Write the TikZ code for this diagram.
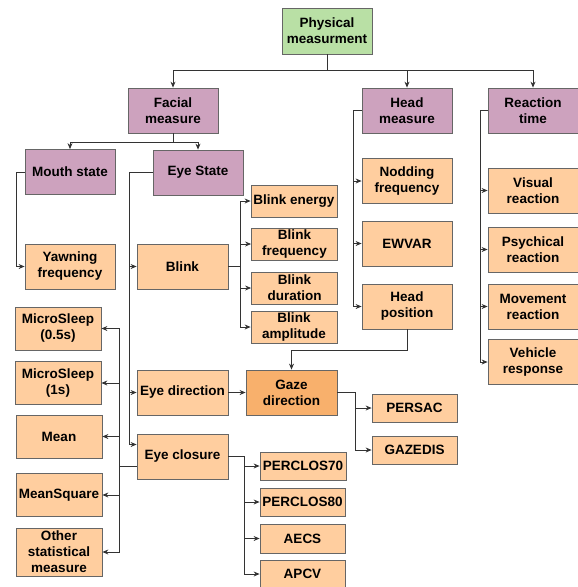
\documentclass[tikz,border=0pt]{standalone}
\usepackage{fontspec}
\setmainfont{Liberation Sans}
\usetikzlibrary{arrows.meta}
\definecolor{greenfill}{HTML}{B9E0A5}
\definecolor{purplefill}{HTML}{CDA2BE}
\definecolor{orangefill}{HTML}{FFCE9F}
\definecolor{gazefill}{HTML}{F8B06C}
\begin{document}
\begin{tikzpicture}[x=1pt,y=-1pt,
  base/.style={draw=black!60, line width=0.8pt, align=center, inner sep=0.5pt, text=black,
    font=\bfseries\fontsize{13.5}{16}\selectfont},
  topbox/.style={base, fill=greenfill, minimum width=90pt, minimum height=46pt},
  catbox/.style={base, fill=purplefill, minimum width=90pt, minimum height=45pt},
  leafbox/.style={base, fill=orangefill, minimum width=90pt, minimum height=45pt},
  smallbox/.style={base, fill=orangefill, minimum width=86pt, minimum height=32pt},
  thinbox/.style={base, fill=orangefill, minimum width=85pt, minimum height=28pt},
  statbox/.style={base, fill=orangefill, minimum width=86pt, minimum height=43pt},
  arr/.style={-{Stealth[length=6pt,width=5pt]}, draw=black!80, line width=0.8pt}]
\useasboundingbox (0,0) rectangle (578,587);
% top and categories
\node[topbox] (phys) at (327,31) {Physical\\measurment};
\node[catbox] (facial) at (173,110.5) {Facial\\measure};
\node[catbox] (headm) at (407,110.5) {Head\\measure};
\node[catbox] (react) at (533,110.5) {Reaction\\time};
\node[catbox] (mouth) at (70,172) {Mouth state};
\node[catbox] (eyestate) at (198,172.5) {Eye State};
% leaves
\node[leafbox] (yawn) at (70,266.5) {Yawning\\frequency};
\node[leafbox, minimum width=91pt] (blink) at (182.5,266.5) {Blink};
\node[leafbox, minimum width=91pt] (eyedir) at (182.5,392.5) {Eye direction};
\node[leafbox, minimum width=91pt] (eyeclos) at (182.5,456.5) {Eye closure};
\node[smallbox] (benergy) at (294,201) {Blink energy};
\node[smallbox] (bfreq) at (294.5,244) {Blink\\frequency};
\node[smallbox] (bdur) at (294.5,288) {Blink\\duration};
\node[smallbox] (bamp) at (294,327) {Blink\\amplitude};
\node[leafbox] (nod) at (407,181) {Nodding\\frequency};
\node[leafbox] (ewvar) at (407,243.5) {EWVAR};
\node[leafbox] (headpos) at (407,306.5) {Head\\position};
\node[leafbox] (visual) at (533,190.5) {Visual\\reaction};
\node[leafbox] (psych) at (533,249.5) {Psychical\\reaction};
\node[leafbox] (move) at (533,306.5) {Movement\\reaction};
\node[leafbox] (vehicle) at (533,362) {Vehicle\\response};
\node[leafbox, fill=gazefill, minimum width=91pt] (gaze) at (291.5,392.5) {Gaze\\direction};
\node[thinbox] (persac) at (414.5,408) {PERSAC};
\node[thinbox] (gazedis) at (414.5,450) {GAZEDIS};
\node[thinbox, minimum width=86pt] (p70) at (303,466) {PERCLOS70};
\node[thinbox] (p80) at (302.5,502) {PERCLOS80};
\node[thinbox, minimum height=29pt] (aecs) at (302.5,538.5) {AECS};
\node[thinbox] (apcv) at (302.5,574) {APCV};
\node[statbox] (ms05) at (58,328.5) {MicroSleep\\(0.5s)};
\node[statbox] (ms1) at (58,383) {MicroSleep\\(1s)};
\node[statbox] (mean) at (59,436.5) {Mean};
\node[statbox] (msq) at (59,495) {MeanSquare};
\node[statbox, minimum height=48pt] (other) at (59,552) {Other\\statistical\\measure};
% connectors
\foreach \t in {facial,headm,react}
  \draw[arr] (phys.south) -- ++(0,16) -| (\t.north);
\foreach \t in {mouth,eyestate}
  \draw[arr] (facial.south) -- ++(0,9) -| (\t.north);
\draw[arr] (mouth.west) -- ++(-8,0) |- (yawn.west);
\foreach \t in {blink,eyedir}
  \draw[arr] (eyestate.west) -- ++(-23,0) |- (\t.west);
\draw[arr] (eyestate.west) -- ++(-23,0) |- ([yshift=12pt]eyeclos.west);
\foreach \t in {benergy,bfreq,bdur,bamp}
  \draw[arr] (blink.east) -- ++(12,0) |- (\t.west);
\foreach \t in {nod,ewvar,headpos}
  \draw[arr] (headm.west) -- ++(-8,0) |- (\t.west);
\foreach \t in {visual,psych,move,vehicle}
  \draw[arr] (react.west) -- ++(-7,0) |- (\t.west);
\draw[arr] (headpos.south) -- ++(0,21) -| (gaze.north);
\draw[arr] (eyedir) -- (gaze);
\foreach \t in {persac,gazedis}
  \draw[arr] (gaze.east) -- ++(18,0) |- (\t.west);
\foreach \t in {p70,p80,aecs,apcv}
  \draw[arr] (eyeclos.east) -- ++(16,0) |- (\t.west);
\foreach \t in {ms05,ms1,mean,msq,other}
  \draw[arr] ([yshift=-10pt]eyeclos.west) -- ++(-17,0) |- (\t.east);
\end{tikzpicture}
\end{document}
